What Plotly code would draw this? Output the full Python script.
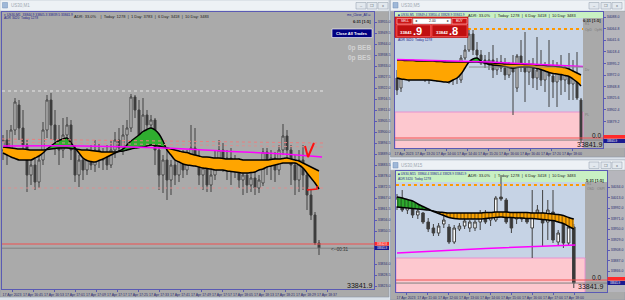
import numpy as np
import plotly.graph_objects as go

W, H = 625, 300
FONT = "Liberation Sans, Arial"

# ---------------- LEFT CHART (US30,M1) ----------------
left_open = [33891, 33896, 33891, 33901, 33913.5, 33902, 33893.5, 33878.5, 33883.5, 33875,
             33886, 33901, 33916, 33903.5, 33896, 33891, 33898.5, 33903.5, 33891, 33878.5,
             33886, 33881, 33888.5, 33883.5, 33891, 33886, 33888.5, 33883.5, 33891, 33896,
             33892, 33898.5, 33902, 33917.5, 33911, 33898.5, 33908.5, 33903.5, 33906, 33891,
             33878.5, 33886, 33876, 33883.5, 33878.5, 33886, 33881, 33888.5, 33892, 33886,
             33878.5, 33882, 33873.5, 33878.5, 33886, 33891, 33883.5, 33887, 33881, 33883.5,
             33876, 33878.5, 33873.5, 33877, 33872, 33874.5, 33890, 33883.5, 33887, 33881,
             33891, 33898, 33891, 33883.5, 33876, 33886, 33878.5, 33868.5, 33858.5, 33844.5]
left_high = [33898.5, 33901, 33903.5, 33917, 33916, 33911, 33896, 33891, 33887, 33891,
             33905, 33918.5, 33919.5, 33911, 33903.5, 33907, 33907.5, 33906, 33893.5, 33888.5,
             33891, 33892, 33893.5, 33896, 33894.5, 33892, 33893.5, 33896, 33900, 33902,
             33903.5, 33906, 33919, 33918.5, 33916, 33917, 33911, 33908.5, 33907, 33896,
             33888.5, 33891, 33886, 33888.5, 33888.5, 33891, 33891, 33903.5, 33902, 33891,
             33886, 33886, 33883.5, 33891, 33896, 33894.5, 33891, 33892, 33888.5, 33887,
             33883.5, 33881, 33881, 33882, 33878.5, 33892, 33892, 33891, 33890, 33893.5,
             33904, 33901, 33893.5, 33888.5, 33891, 33893.5, 33883.5, 33871, 33860, 33846]
left_low = [33886, 33883.5, 33888.5, 33898.5, 33896, 33891, 33870, 33873.5, 33871, 33872,
            33883.5, 33897, 33896, 33888.5, 33883.5, 33887, 33893.5, 33886, 33875, 33872.5,
            33876, 33878.5, 33881, 33880, 33882, 33881, 33881, 33882, 33887, 33890,
            33888.5, 33891, 33900, 33907, 33896, 33897, 33898.5, 33896, 33883.5, 33871,
            33869.5, 33866, 33868.5, 33873.5, 33875, 33877, 33878.5, 33886, 33883.5, 33873.5,
            33871, 33870, 33870, 33876, 33881, 33880, 33876, 33873.5, 33877, 33872,
            33868.5, 33869.5, 33870, 33868.5, 33869.5, 33873, 33878.5, 33876, 33875, 33878.5,
            33888.5, 33886, 33873.5, 33868.5, 33870, 33871, 33861, 33856, 33843.5, 33838.5]
left_close = [33896, 33891, 33901, 33915, 33902, 33893.5, 33878.5, 33883.5, 33875, 33886,
              33901, 33916, 33903.5, 33896, 33891, 33898.5, 33903.5, 33891, 33878.5, 33886,
              33881, 33888.5, 33883.5, 33891, 33886, 33888.5, 33883.5, 33891, 33896, 33892,
              33898.5, 33902, 33917.5, 33911, 33898.5, 33908.5, 33903.5, 33906, 33891, 33878.5,
              33886, 33876, 33883.5, 33878.5, 33886, 33881, 33888.5, 33892, 33886, 33878.5,
              33882, 33873.5, 33878.5, 33886, 33891, 33883.5, 33887, 33881, 33883.5, 33876,
              33878.5, 33873.5, 33877, 33872, 33876, 33890, 33883.5, 33887, 33881, 33891,
              33898, 33891, 33883.5, 33876, 33886, 33878.5, 33868.5, 33858.5, 33844.5, 33841.9]
left_fast = [33889.5, 33888.5, 33887.5, 33886.75, 33886, 33886, 33886, 33886, 33887, 33888,
             33889.5, 33891.5, 33893, 33894.5, 33895.75, 33896.5, 33897, 33894.5, 33892, 33889.5,
             33887, 33885.75, 33885.25, 33885, 33885.75, 33886.5, 33887.5, 33888.5, 33889.5, 33890.5,
             33891.5, 33893.5, 33895.5, 33897, 33898.5, 33900.25, 33901.25, 33902, 33901, 33899,
             33895.5, 33891, 33888.5, 33886, 33885, 33884, 33883.5, 33883.25, 33883, 33882.5,
             33882, 33881.75, 33881.5, 33881, 33881, 33881, 33880.5, 33880.25, 33880, 33879.75,
             33879.5, 33879.5, 33879.75, 33880, 33881, 33881.5, 33882.5, 33883, 33883.5, 33884,
             33884.5, 33884.5, 33884.5, 33884.5, 33883.5, 33882, 33879.5, 33877, 33874.5, 33871.5]
left_slow = [33892.5, 33892.25, 33892, 33891.75, 33891.5, 33891.5, 33891.25, 33891, 33891, 33891,
             33891, 33891.25, 33891.5, 33891.75, 33892, 33892, 33892, 33891.75, 33891.5, 33891.25,
             33891, 33891, 33890.75, 33890.5, 33890.25, 33890, 33890, 33890, 33890, 33890.25,
             33890.5, 33891, 33891.5, 33892, 33892.25, 33892.5, 33893, 33893.5, 33893.25, 33893,
             33892.5, 33892, 33891.5, 33891, 33890.5, 33890, 33889.75, 33889, 33888.5, 33888,
             33887.5, 33887.5, 33887.25, 33887, 33887, 33886.75, 33886.5, 33886.5, 33886.5, 33886.5,
             33886, 33886, 33886, 33886, 33886, 33886, 33886, 33886.25, 33886.5, 33886.5,
             33886.75, 33887, 33886.5, 33886, 33885.5, 33884.5, 33883.5, 33882.5, 33881.5, 33880.5]
left_magenta_x = [0, 20, 40, 55, 70, 79.75]
left_magenta = [33893, 33893, 33892, 33890.5, 33889, 33887.5]
left_white_level = 33920.5
left_red_dot_a = [33896.5, 33894.5]
left_red_dot_b = [33895, 33892.5]
left_red_dot_low = 33872
left_ask = 33844
left_bid = 33841.9
left_check_x = [75.5, 76.25, 77.75]
left_check_y = [33893, 33887.5, 33894.5]
left_mark_x = [76.0, 78.5, 78.5]
left_mark_y = [33871, 33871.5, 33873]
left_time_labels = ["17 Apr 2023", "17 Apr 16:45", "17 Apr 16:53", "17 Apr 17:01", "17 Apr 17:09",
                    "17 Apr 17:17", "17 Apr 17:25", "17 Apr 17:33", "17 Apr 17:41", "17 Apr 17:49",
                    "17 Apr 17:57", "17 Apr 18:05", "17 Apr 18:13", "17 Apr 18:21", "17 Apr 18:29",
                    "17 Apr 18:37"]

# ---------------- RIGHT TOP (US30,M5) ----------------
rt_open = [33966, 33946, 33978, 33966, 33982, 33972, 33982, 33974, 33966, 33978,
           33970, 33982, 33990, 33978, 33962, 33974, 33962, 34006, 34022, 34054,
           34022, 34012, 34002, 33994, 34002, 33982, 33998, 33986, 33972, 33992,
           33946, 34010, 33990, 33978, 33992, 33966, 33982, 33962, 33986, 33970,
           33958, 33982, 33962, 33974, 33954, 33966, 33922]
rt_high = [33982, 33982, 33986, 33986, 33990, 33988, 33992, 33990, 33986, 33992,
           33990, 33998, 34002, 33994, 33982, 33992, 34012, 34032, 34066, 34062,
           34038, 34022, 34012, 34018, 34032, 34006, 34012, 34006, 33998, 34012,
           34014, 34042, 34058, 34002, 34006, 34048, 34022, 33998, 34042, 34002,
           33998, 34012, 33992, 34016, 34002, 34018, 33926]
rt_low = [33932, 33938, 33962, 33958, 33966, 33962, 33966, 33958, 33954, 33962,
          33958, 33966, 33972, 33954, 33952, 33954, 33956, 34002, 34018, 34012,
          34006, 33992, 33986, 33982, 33966, 33972, 33978, 33962, 33966, 33892,
          33938, 33978, 33918, 33952, 33946, 33942, 33950, 33938, 33908, 33926,
          33908, 33932, 33938, 33922, 33922, 33922, 33836]
rt_close = [33942, 33978, 33966, 33982, 33972, 33982, 33974, 33966, 33978, 33970,
            33982, 33990, 33978, 33962, 33974, 33966, 34006, 34022, 34054, 34022,
            34012, 34002, 33994, 34002, 33982, 33998, 33986, 33972, 33992, 33978,
            34010, 33990, 33978, 33992, 33966, 33982, 33962, 33986, 33970, 33958,
            33982, 33962, 33974, 33954, 33966, 33926, 33841.9]
rt_fast = [33966, 33964, 33963, 33962, 33962, 33962, 33962, 33962, 33962, 33961,
           33960, 33959, 33958, 33958, 33962, 33966, 33974, 33986, 33998, 34004,
           34006, 34000, 33996, 33993, 33992, 33991, 33990, 33989, 33987, 33986,
           33987, 33988, 33988, 33988, 33987, 33985, 33983, 33980, 33977, 33975,
           33974, 33973, 33971, 33969, 33964, 33958, 33950]
rt_slow = [34002, 34002, 34001, 34001, 34001, 34000, 34000, 34000, 34000, 34000,
           33999, 33999, 33998, 33998, 33998, 33998, 33998, 33998, 33998, 33998,
           33998, 33997, 33997, 33996, 33996, 33995, 33995, 33994, 33994, 33994,
           33994, 33994, 33993, 33993, 33993, 33992, 33992, 33991, 33990, 33990,
           33989, 33988, 33987, 33984, 33980, 33976, 33972]
rt_magenta_x = [0, 23, 46.5]
rt_magenta = [34003, 33998, 33989]
rt_orange_dot = 34064
rt_gray_level = 33988
rt_pink_top = 33898
rt_ask = 33846
rt_bid = 33841.9
rt_time_labels = ["17 Apr 2023", "17 Apr 13:20", "17 Apr 14:00", "17 Apr 14:40", "17 Apr 15:20",
                  "17 Apr 16:00", "17 Apr 16:40", "17 Apr 17:20", "17 Apr 18:00"]

# ---------------- RIGHT BOTTOM (US30,M15) ----------------
rb_open = [33994, 34012, 33988, 33998, 33978, 33982, 33964, 33952, 33942, 33960,
           33954, 33924, 33950, 33956, 33952, 33952, 33964, 33976, 33968, 33968,
           34014, 34008, 33974, 33970, 33976, 33972, 33952, 33982, 33982, 33964,
           33984, 33924, 33964, 33922, 33954]
rb_high = [34020, 34028, 34008, 34000, 33994, 33984, 33972, 33960, 33962, 33976,
           33960, 33958, 33962, 33970, 33968, 33968, 33988, 33988, 33984, 34016,
           34054, 34012, 33984, 33980, 33984, 33980, 34028, 33998, 34028, 34008,
           34028, 33948, 33978, 33958, 33960]
rb_low = [33988, 33984, 33980, 33972, 33970, 33960, 33944, 33936, 33936, 33952,
          33920, 33920, 33946, 33950, 33944, 33946, 33948, 33960, 33956, 33964,
          34006, 33960, 33942, 33960, 33964, 33960, 33892, 33972, 33914, 33928,
          33922, 33918, 33912, 33916, 33832]
rb_close = [34012, 33988, 34002, 33978, 33986, 33964, 33950, 33942, 33956, 33968,
            33924, 33952, 33956, 33966, 33964, 33964, 33976, 33964, 33978, 34012,
            34010, 33964, 33952, 33976, 33970, 33964, 33982, 33988, 33962, 33988,
            33928, 33942, 33922, 33954, 33841.9]
rb_fast = [34014, 34012, 34009, 34006, 34000, 33995, 33990, 33985, 33981, 33977,
           33973, 33971, 33970, 33970, 33970, 33970, 33970, 33971, 33972, 33973,
           33974, 33973, 33973, 33972, 33972, 33971, 33971, 33970, 33969, 33968,
           33967, 33964, 33961, 33955, 33950]
rb_slow = [33994, 33993, 33992, 33991, 33990, 33989, 33988, 33986, 33984, 33983,
           33982, 33982, 33982, 33982, 33982, 33982, 33982, 33983, 33983, 33984,
           33984, 33984, 33983, 33983, 33983, 33983, 33982, 33982, 33982, 33981,
           33980, 33979, 33977, 33973, 33970]
rb_magenta_x = [0, 17, 34.3]
rb_magenta = [33902, 33911, 33918]
rb_orange_dot = 34038
rb_pink_top = 33892
rb_ask = 33848
rb_bid = 33841.9
rb_time_labels = ["17 Apr 2023", "17 Apr 11:00", "17 Apr 12:00", "17 Apr 13:00", "17 Apr 14:00",
                  "17 Apr 15:00", "17 Apr 16:00", "17 Apr 17:00", "17 Apr 18:00"]

# ======================================================
fig = go.Figure()
shapes, anns = [], []


def rect(x0, y0, x1, y1, fill, line=None, lw=0.6, layer='below'):
    shapes.append(dict(type='rect', xref='paper', yref='paper', x0=x0 / W, x1=x1 / W,
                       y0=1 - y1 / H, y1=1 - y0 / H, fillcolor=fill, layer=layer,
                       line=dict(color=line or 'rgba(0,0,0,0)', width=lw if line else 0)))


def txt(x, y, s, size=4, color='#202020', anchor='left', bold=False):
    if bold:
        s = '<b>' + s + '</b>'
    anns.append(dict(x=x / W, y=1 - y / H, xref='paper', yref='paper', text=s, showarrow=False,
                     xanchor=anchor, yanchor='middle', borderpad=0,
                     font=dict(size=size, color=color, family=FONT)))


def candles(o, h, l, c, xa, ya):
    x = list(range(len(o)))
    fig.add_trace(go.Candlestick(x=x, open=o, high=h, low=l, close=c, xaxis=xa, yaxis=ya,
                                 increasing=dict(line=dict(color='#404040', width=1), fillcolor='#ffffff'),
                                 decreasing=dict(line=dict(color='#404040', width=1), fillcolor='#383838'),
                                 whiskerwidth=0, showlegend=False, hoverinfo='skip'))


def band(fast, slow, xa, ya, orange, green, pattern=False, lw=1.5):
    x = list(range(len(fast)))
    f, s = np.array(fast, float), np.array(slow, float)
    lo = np.where(f < s, f, s)
    hi = np.where(f > s, f, s)
    for yy, col in ((lo, orange), (hi, green)):
        fig.add_trace(go.Scatter(x=x, y=s, mode='lines', line=dict(width=0, shape='spline'),
                                 xaxis=xa, yaxis=ya, showlegend=False, hoverinfo='skip'))
        kw = dict(fill='tonexty', fillcolor=col)
        if pattern:
            kw['fillpattern'] = dict(shape='|', bgcolor=col, fgcolor='#111111', size=3.5, solidity=0.35)
        fig.add_trace(go.Scatter(x=x, y=yy, mode='lines', line=dict(width=0, shape='spline'),
                                 xaxis=xa, yaxis=ya, showlegend=False, hoverinfo='skip', **kw))
    for yy in (fast, slow):
        fig.add_trace(go.Scatter(x=x, y=yy, mode='lines', line=dict(color='#000000', width=lw, shape='spline'),
                                 xaxis=xa, yaxis=ya, showlegend=False, hoverinfo='skip'))


def hline(x0, x1, y0, y1, xa, ya, color, width=1, dash='solid'):
    fig.add_trace(go.Scatter(x=[x0, x1], y=[y0, y1], mode='lines', line=dict(color=color, width=width, dash=dash),
                             xaxis=xa, yaxis=ya, showlegend=False, hoverinfo='skip'))


# ---------- window chrome ----------
rect(0, 0, 389, 297, '#aaaaaa', '#8e99a8')
rect(0, 0, 389, 11, '#edf1f5', '#b5bfcb')
rect(2.5, 2.5, 7.5, 8, '#9fb8d8', '#6f8fb8', 0.5)
txt(10, 5.5, 'US30,M1', 4.5, '#a0a8b2')
for bx in (356, 367, 378):
    rect(bx, 2.5, bx + 10, 9, '#e2e8ee', '#8f9aa8', 0.5)
txt(361, 5.8, '–', 4, '#606870', 'center')
txt(372, 5.8, '❐', 4, '#606870', 'center')
txt(383, 5.8, 'x', 4, '#606870', 'center')

rect(390.5, 0, 625, 157, '#aaaaaa', '#8e99a8')
rect(390.5, 0, 625, 11, '#edf1f5', '#b5bfcb')
rect(393, 2.5, 398, 8, '#9fb8d8', '#6f8fb8', 0.5)
txt(400, 5.5, 'US30,M5', 4.5, '#a0a8b2')
for bx in (589, 601, 612):
    rect(bx, 2.5, bx + 10, 9, '#e2e8ee', '#8f9aa8', 0.5)
txt(594, 5.8, '–', 4, '#606870', 'center')
txt(606, 5.8, '❐', 4, '#606870', 'center')
txt(617, 5.8, 'x', 4, '#606870', 'center')
rect(395, 12, 583, 148, '#c6d3e5')
rect(583, 12, 603, 148, '#a9a9a9')
rect(603, 12, 625, 148, '#b6b6bc')
rect(395, 12, 603, 18, '#c8f0c3')

rect(390.5, 160, 625, 300, '#aaaaaa', '#8e99a8')
rect(390.5, 160, 625, 170, '#edf1f5', '#b5bfcb')
rect(393, 162.5, 398, 168, '#9fb8d8', '#6f8fb8', 0.5)
txt(400, 165.5, 'US30,M15', 4.5, '#a0a8b2')
for bx in (589, 601, 612):
    rect(bx, 162, bx + 10, 168.5, '#e2e8ee', '#8f9aa8', 0.5)
txt(594, 165.3, '–', 4, '#606870', 'center')
txt(606, 165.3, '❐', 4, '#606870', 'center')
txt(617, 165.3, 'x', 4, '#606870', 'center')
rect(396, 171, 585, 292, '#c6d3e5')
rect(585, 171, 607, 292, '#a9a9a9')
rect(607, 171, 625, 292, '#b6b6bc')
rect(396, 171, 607, 182, '#c8f0c3')

shapes.append(dict(type='rect', xref='x2 domain', yref='y2', x0=0, x1=(583 - 395) / 208, y0=33700, y1=rt_pink_top,
                   fillcolor='#fdc8cf', line=dict(color='#e890d0', width=1), layer='below'))
shapes.append(dict(type='rect', xref='x3 domain', yref='y3', x0=0, x1=(585 - 396) / 211, y0=33700, y1=rb_pink_top,
                   fillcolor='#fdc8cf', line=dict(color='#e890d0', width=1), layer='below'))

# ---------- left chart traces ----------
band(left_fast, left_slow, 'x', 'y', '#ffa500', '#2fae2f')
fig.add_trace(go.Scatter(x=left_magenta_x, y=left_magenta, mode='lines', line=dict(color='#ff00ff', width=1.5, shape='spline'),
                         showlegend=False, hoverinfo='skip'))
hline(-0.25, 80, left_white_level, left_white_level, 'x', 'y', '#e6e6e6', 1, 'dot')
hline(-0.25, 80, left_red_dot_a[0], left_red_dot_a[1], 'x', 'y', '#e88080', 1, 'dot')
hline(-0.25, 80, left_red_dot_b[0], left_red_dot_b[1], 'x', 'y', '#d99090', 1, 'dot')
hline(-0.25, 80, left_red_dot_low, left_red_dot_low, 'x', 'y', '#d99090', 1, 'dot')
hline(-0.25, 92.75, left_ask, left_ask, 'x', 'y', '#f05050', 1)
hline(-0.25, 92.75, left_bid, left_bid, 'x', 'y', '#808080', 1)
candles(left_open, left_high, left_low, left_close, 'x', 'y')
fig.add_trace(go.Scatter(x=left_check_x, y=left_check_y, mode='lines', line=dict(color='#ff1010', width=2),
                         showlegend=False, hoverinfo='skip'))
fig.add_trace(go.Scatter(x=left_mark_x, y=left_mark_y, mode='lines', line=dict(color='#ff1010', width=1.5),
                         showlegend=False, hoverinfo='skip'))

# ---------- right top traces ----------
band(rt_fast, rt_slow, 'x2', 'y2', '#ffa500', '#2fae2f')
fig.add_trace(go.Scatter(x=rt_magenta_x, y=rt_magenta, mode='lines', line=dict(color='#ff00ff', width=1.5),
                         xaxis='x2', yaxis='y2', showlegend=False, hoverinfo='skip'))
hline(17.75, 46.5, rt_orange_dot, rt_orange_dot, 'x2', 'y2', '#ff9900', 2, 'dot')
hline(18, 46.5, rt_gray_level, rt_gray_level, 'x2', 'y2', '#8a8a8a', 1)
hline(-0.5, 51.5, rt_ask, rt_ask, 'x2', 'y2', '#f05050', 1)
hline(-0.5, 51.5, rt_bid, rt_bid, 'x2', 'y2', '#808080', 1)
candles(rt_open, rt_high, rt_low, rt_close, 'x2', 'y2')

# ---------- right bottom traces ----------
band(rb_fast, rb_slow, 'x3', 'y3', '#ffa500', '#2fae2f', pattern=True)
fig.add_trace(go.Scatter(x=rb_magenta_x, y=rb_magenta, mode='lines', line=dict(color='#ff00ff', width=1.5),
                         xaxis='x3', yaxis='y3', showlegend=False, hoverinfo='skip'))
hline(-0.2, 36.5, rb_orange_dot, rb_orange_dot, 'x3', 'y3', '#ff9900', 2, 'dot')
hline(-0.2, 40.4, rb_ask, rb_ask, 'x3', 'y3', '#f05050', 1)
hline(-0.2, 40.4, rb_bid, rb_bid, 'x3', 'y3', '#808080', 1)
candles(rb_open, rb_high, rb_low, rb_close, 'x3', 'y3')

# ---------- texts: left ----------
NAVY = '#1c1c8a'
txt(3, 14.5, '▾ US30,M1  33844.9 33845.3 33839.5 33841.9', 3.3, NAVY)
txt(3, 18.5, 'ADR 3420  Today 1278', 3.3, NAVY)
txt(73, 16, 'ADR: 33.0%    |  Today: 1278  |  1 Day: 3783  |  6 Day: 3418  |  10 Day: 3483', 4, '#202020')
txt(372, 15, 'mx_Close_All ⊙', 3.3, NAVY, 'right')
txt(372, 21, '6:31 [1:5]', 4, '#202020', 'right', True)
rect(332, 29, 372, 37.5, '#000080', '#ffffff', 0.6, 'above')
txt(352, 33.3, 'Close All Trades', 4, '#ffffff', 'center', True)
txt(372, 48, '0p BEB', 6.5, '#d2d2d2', 'right', True)
txt(372, 58, '0p BES', 6.5, '#d2d2d2', 'right', True)
txt(330, 249.5, '<--00:31', 4.5, '#303030')
txt(373, 285, '33841.9', 7, '#151515', 'right')
rect(374.5, 242, 389, 245.6, '#ff2a2a', layer='above')
rect(374.5, 246, 389, 250, '#1a1a90', layer='above')
txt(376, 243.8, '33842.8', 2.8, '#ffffff')
txt(376, 248, '33841.9', 2.8, '#ffffff')

# ---------- texts: right top ----------
txt(397, 14.8, '■ US30,M5  33849.4 33850.4 33828.9 33841.9', 3.2, NAVY)
txt(467, 15, 'ADR: 33.0%    |  Today: 1278  |  6 Day: 3418  |  10 Day: 3483', 4, '#202020')
txt(602, 20.5, '6:31 [1:5]', 4, '#202020', 'right', True)
txt(584, 24, 'R1', 3.3, '#7a7a7a')
txt(584, 30, 'OpD   OpHi', 3.3, '#7a7a7a')
txt(584, 70, 'Dv', 3.3, '#7a7a7a')
txt(584, 115, 'PL', 3.3, '#7a7a7a')
txt(602, 135.5, '0.0', 6.5, '#151515', 'right')
txt(603, 144, '33841.9', 7, '#151515', 'right')
txt(397, 40, 'ADR 3420  Today 1278', 3.3, NAVY)
rect(603.5, 135, 625, 138.6, '#ff2a2a', layer='above')
rect(603.5, 139, 625, 143, '#1a1a90', layer='above')
txt(606, 141, '33841.9', 2.8, '#ffffff')
rect(395, 17, 468, 37.5, '#e52a2a', '#b00000', 0.6, 'above')
rect(397, 18.5, 412, 24, '#cc1515', '#ffdddd', 0.5, 'above')
txt(404.5, 21.3, 'SELL', 3.3, '#ffffff', 'center')
rect(413, 18.5, 451, 24, '#ffffff', '#888888', 0.5, 'above')
txt(416, 21.3, '◂', 3.5, '#404040', 'center')
txt(432, 21.3, '2.00', 3.5, '#202020', 'center')
txt(448, 21.3, '▸', 3.5, '#404040', 'center')
rect(452, 18.5, 467, 24, '#cc1515', '#ffdddd', 0.5, 'above')
txt(459.5, 21.3, 'BUY', 3.3, '#ffffff', 'center')
rect(397, 25, 430.5, 36.5, '#c01010', '#ff7070', 0.5, 'above')
rect(432, 25, 467, 36.5, '#c01010', '#ff7070', 0.5, 'above')
txt(399, 32.5, '33841', 4.3, '#ffffff', 'left', True)
txt(412, 30.8, '.9', 11, '#ffffff', 'left', True)
txt(435, 32.5, '33842', 4.3, '#ffffff', 'left', True)
txt(448, 30.8, '.8', 11, '#ffffff', 'left', True)

# ---------- texts: right bottom ----------
txt(397, 174, '■ US30,M15  33864.4 33865.4 33828.9 33841.9', 3.2, NAVY)
txt(397, 179, 'ADR 3420  Today 1278', 3.2, NAVY)
txt(467, 175.5, 'ADR: 33.0%    |  Today: 1278  |  6 Day: 3418  |  10 Day: 3483', 4, '#202020')
txt(605, 180, '5:31 [1:5]', 4, '#202020', 'right', True)
txt(586, 184, 'R1', 3.3, '#7a7a7a')
txt(586, 188.5, 'OSD   OSPI', 3.3, '#7a7a7a')
txt(602, 277.5, '0.0', 6.5, '#151515', 'right')
txt(604, 286, '33841.9', 7, '#151515', 'right')
rect(607.5, 277, 625, 280.6, '#ff2a2a', layer='above')
rect(607.5, 281, 625, 285, '#1a1a90', layer='above')
txt(609, 283, '33841.9', 2.8, '#ffffff')

# ---------- axes ----------
AX = '#5a5ab4'
TF = dict(size=3.5, color='#2a2a70', family=FONT)


def xax(domain, rng, tv, tt, anchor):
    return dict(domain=domain, range=rng, anchor=anchor, tickvals=tv, ticktext=tt, tickangle=0,
                tickfont=TF, showline=True, linecolor=AX, linewidth=1, mirror=True, showgrid=False,
                zeroline=False, ticks='outside', ticklen=2, tickcolor=AX, rangeslider=dict(visible=False),
                fixedrange=True)


def yax(domain, rng, tv, anchor, skip_lo, skip_hi):
    tv = [v for v in tv if not (skip_lo <= v <= skip_hi)]
    return dict(domain=domain, range=rng, anchor=anchor, side='right', tickvals=tv, tickformat='.1f',
                tickfont=TF, showline=True, linecolor=AX, linewidth=1, mirror=True, showgrid=False,
                zeroline=False, ticks='outside', ticklen=2, tickcolor=AX, fixedrange=True)


left_tv = [2.25 + 5.25 * k for k in range(len(left_time_labels))]
rt_tv = [1.75 + 5.25 * k for k in range(len(rt_time_labels))]
rb_tv = [(9 + 21 * k) / 5.2 for k in range(len(rb_time_labels))]

fig.update_layout(
    width=W, height=H, margin=dict(l=0, r=0, t=0, b=0),
    paper_bgcolor='#dbe2ea', plot_bgcolor='rgba(0,0,0,0)', showlegend=False,
    xaxis=xax([2 / W, 374 / W], [-0.25, 92.75], left_tv, left_time_labels, 'y'),
    yaxis=yax([1 - 289 / H, 1 - 12 / H], [33821.5, 33960], np.arange(33955.0, 33822, -5.5), 'x', 33838, 33848),
    xaxis2=xax([395 / W, 603 / W], [-0.5, 51.5], rt_tv, rt_time_labels, 'y2'),
    yaxis2=yax([1 - 148 / H, 1 - 12 / H], [33826, 34098], np.arange(34088.0, 33827, -23.2), 'x2', 33832, 33860),
    xaxis3=xax([396 / W, 607 / W], [-0.1923, 40.385], rb_tv, rb_time_labels, 'y3'),
    yaxis3=yax([1 - 292 / H, 1 - 171 / H], [33824, 34066], np.arange(34034.0, 33825, -21.0), 'x3', 33832, 33858),
    shapes=shapes, annotations=anns,
)

fig.write_html("out.html")
